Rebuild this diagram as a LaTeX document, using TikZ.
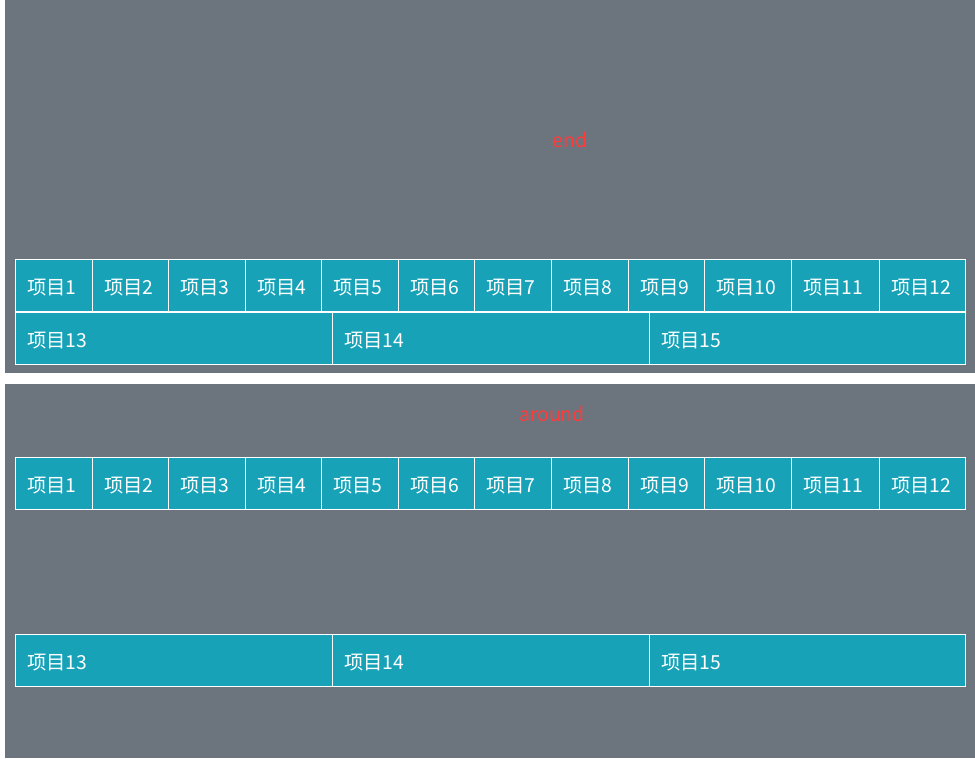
\documentclass[tikz,border=0pt]{standalone}
\usepackage{fontspec}
\newfontfamily\cjk{Noto Sans CJK SC}
\usetikzlibrary{positioning}

\definecolor{panelgray}{HTML}{6C757D}
\definecolor{cellteal}{HTML}{17A2B8}
\definecolor{tagred}{HTML}{FF3B3B}

\tikzset{
  cell/.style={draw=white, line width=0.75pt, fill=cellteal, text=white,
    font=\cjk\fontsize{14.5}{16}\selectfont, minimum height=39pt,
    text height=14.5pt, text depth=0.5pt,
    inner xsep=9pt, inner ysep=0pt, outer sep=0pt, align=left, anchor=north west},
  tag/.style={text=tagred, font=\cjk\fontsize{14.5}{16}\selectfont}
}

\begin{document}
\begin{tikzpicture}[x=0.75pt,y=-0.75pt]
  \fill[white] (0,0) rectangle (975,758);
  \useasboundingbox (0,0) rectangle (975,758);

  % two panels
  \fill[panelgray] (5,0) rectangle (975,373);
  \fill[panelgray] (5,384) rectangle (975,758);

  \node[tag] (endtag) at (570,140) {end};
  \node[tag] (aroundtag) at (552,414) {around};

  % first row of items
  \foreach \i/\l/\r in {1/15/92, 2/92/168, 3/168/245, 4/245/321, 5/321/398, 6/398/474,
      7/474/551, 8/551/628, 9/628/704, 10/704/791, 11/791/879, 12/879/965} {
    \pgfmathsetmacro\tw{(\r-\l-24)*0.75}
    \node[cell, text width=\tw pt] (a\i) at (\l,259) {项目\i};
    \node[cell, text width=\tw pt] (b\i) at (\l,457) {项目\i};
  }

  % second row of items
  \foreach \i/\l/\r in {13/15/332, 14/332/649, 15/649/965} {
    \pgfmathsetmacro\tw{(\r-\l-24)*0.75}
    \node[cell, text width=\tw pt] (a\i) at (\l,312) {项目\i};
    \node[cell, text width=\tw pt] (b\i) at (\l,634) {项目\i};
  }
\end{tikzpicture}
\end{document}
